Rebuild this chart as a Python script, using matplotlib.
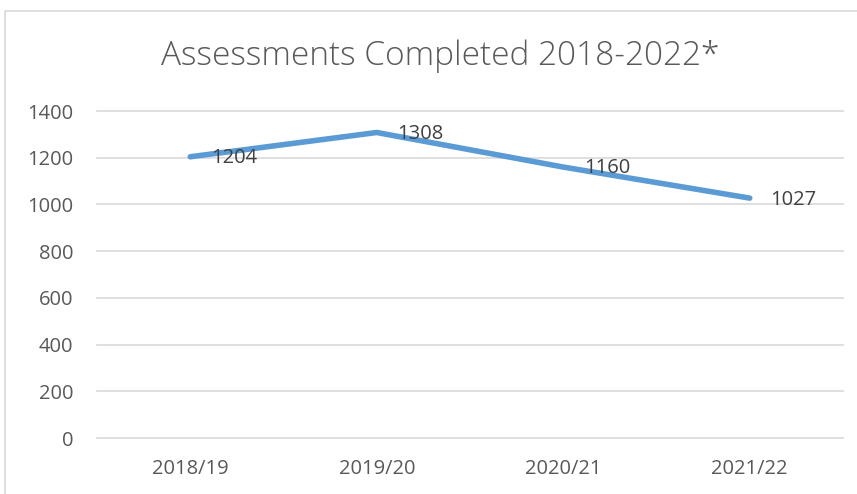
import matplotlib.pyplot as plt
from matplotlib.patches import Rectangle

years = ['2018/19', '2019/20', '2020/21', '2021/22']
completed = [1204, 1308, 1160, 1027]
yticks = [0, 200, 400, 600, 800, 1000, 1200, 1400]

plt.rcParams['font.family'] = ['Open Sans', 'DejaVu Sans']
W, H = 857, 494
fig = plt.figure(figsize=(W / 100, H / 100), dpi=100)
ax = fig.add_axes([97 / W, 1 - 438 / H, (843 - 97) / W, (438 - 111) / H])

# chart border (runs off right and bottom edges)
fig.patches.append(Rectangle((5 / W, -0.1), 1.0, 1 - 11 / H + 0.1,
                             transform=fig.transFigure, fill=False,
                             edgecolor='#d9d9d9', linewidth=1.2))

x = list(range(len(years)))
ax.plot(x, completed, color='#5b9bd5', linewidth=4, solid_capstyle='round', zorder=3)
for xi, v in zip(x, completed):
    ax.annotate(str(v), (xi, v), xytext=(15, -1), textcoords='offset points',
                ha='left', va='center', fontsize=14.5, color='#404040', zorder=4)

ax.set_xlim(-0.5, len(years) - 0.5)
ax.set_ylim(0, 1400)
ax.set_yticks(yticks)
ax.set_xticks(x)
ax.set_xticklabels(years)
ax.grid(axis='y', color='#d9d9d9', linewidth=1.2)
for gl in ax.get_ygridlines():
    gl.set_clip_on(False)
ax.set_axisbelow(True)
for s in ax.spines.values():
    s.set_visible(False)
ax.tick_params(length=0, labelsize=14.5, labelcolor='#595959')
ax.tick_params(axis='y', pad=17)
ax.tick_params(axis='x', pad=15)

fig.text(440 / W, 1 - 56 / H, 'Assessments Completed 2018-2022*', ha='center', va='center',
         fontsize=24, color='#595959', fontweight='light')

fig.savefig('out.png', dpi=100)
